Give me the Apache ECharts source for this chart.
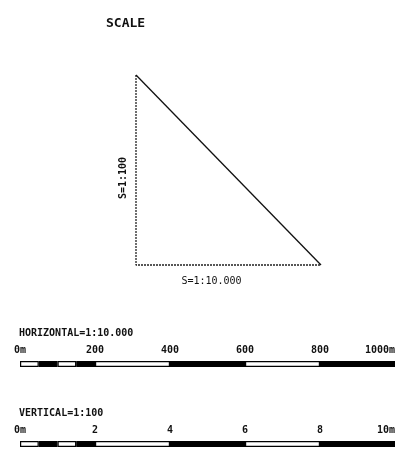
<!DOCTYPE html>
<html>
<head>
<meta charset="utf-8">
<script src="https://cdn.jsdelivr.net/npm/echarts@6/dist/echarts.min.js"></script>
<style>html,body{margin:0;padding:0;background:#fff}#c{width:414px;height:450px}</style>
</head>
<body>
<div id="c"></div>
<script>
// ---- data ----
const chartTitle = 'SCALE';
const triangleLabelX = 'S=1:10.000';
const triangleLabelY = 'S=1:100';
const triangleLegs = [[0, 10], [0, 0], [1000, 0]];
const triangleHyp = [[0, 10], [1000, 0]];

const horizTitle = 'HORIZONTAL=1:10.000';
const horizTicks = [0, 200, 400, 600, 800, 1000];
const horizSegments = [50, 50, 50, 50, 200, 200, 200, 200];

const vertTitle = 'VERTICAL=1:100';
const vertTicks = [0, 2, 4, 6, 8, 10];
const vertSegments = [0.5, 0.5, 0.5, 0.5, 2, 2, 2, 2];

// ---- chart ----
const FONT = '"DejaVu Sans Mono", "Liberation Mono", monospace';
const chart = echarts.init(document.getElementById('c'), null, {renderer: 'canvas'});

function tickFmt(ticks) {
  const max = ticks[ticks.length - 1];
  return function (v) {
    if (v === 0) return '0m';
    if (v === max) return v + 'm';
    return String(v);
  };
}
function barAxis(ticks, gi, margin) {
  return {
    type: 'value', gridIndex: gi, position: 'top',
    min: ticks[0], max: ticks[ticks.length - 1],
    interval: ticks[1] - ticks[0],
    axisLine: {show: false}, axisTick: {show: false}, splitLine: {show: false},
    axisLabel: {
      show: true, margin: margin, color: '#111', fontFamily: FONT, fontSize: 10, fontWeight: 'bold',
      formatter: tickFmt(ticks), alignMaxLabel: 'right'
    }
  };
}
function hiddenCat(gi) {
  return {type: 'category', gridIndex: gi, data: ['s'], show: false};
}
function segSeries(segs, gi, stack) {
  return segs.map((v, i) => ({
    type: 'bar', stack: stack, xAxisIndex: gi, yAxisIndex: gi,
    barWidth: 6, silent: true, animation: false,
    data: [v],
    itemStyle: {color: i % 2 === 0 ? '#fff' : '#000', borderColor: '#000', borderWidth: 1.2}
  }));
}
const txt = (size) => ({fontFamily: FONT, fontSize: size, fontWeight: 'bold', color: '#111'});

const option = {
  animation: false,
  backgroundColor: '#fff',
  title: [
    {text: chartTitle, left: 101, top: 12, textStyle: txt(13)},
    {text: horizTitle, left: 14, top: 323, textStyle: txt(10)},
    {text: vertTitle, left: 14, top: 403, textStyle: txt(10)}
  ],
  grid: [
    {left: 136, top: 75, width: 185, height: 190},
    {left: 20, top: 361, width: 375, height: 6},
    {left: 20, top: 441, width: 375, height: 6}
  ],
  xAxis: [
    {
      type: 'value', gridIndex: 0, min: 0, max: 1000,
      axisLine: {show: false}, axisTick: {show: false}, axisLabel: {show: false}, splitLine: {show: false},
      name: triangleLabelX, nameLocation: 'middle', nameGap: 11,
      nameTextStyle: Object.assign(txt(10), {fontWeight: 'normal', padding: [0, 34, 0, 0]})
    },
    barAxis(horizTicks, 1, 6),
    barAxis(vertTicks, 2, 6)
  ],
  yAxis: [
    {
      type: 'value', gridIndex: 0, min: 0, max: 10,
      axisLine: {show: false}, axisTick: {show: false}, axisLabel: {show: false}, splitLine: {show: false},
      name: triangleLabelY, nameLocation: 'middle', nameGap: 8,
      nameTextStyle: Object.assign(txt(10), {padding: [0, 16, 0, 0]})
    },
    hiddenCat(1),
    hiddenCat(2)
  ],
  series: [
    {
      type: 'line', xAxisIndex: 0, yAxisIndex: 0, data: triangleLegs,
      showSymbol: false, clip: false, silent: true,
      lineStyle: {color: '#222', width: 1.3, type: [2, 1]}
    },
    {
      type: 'line', xAxisIndex: 0, yAxisIndex: 0, data: triangleHyp,
      showSymbol: false, clip: false, silent: true,
      lineStyle: {color: '#111', width: 1.3}
    }
  ].concat(segSeries(horizSegments, 1, 'h'), segSeries(vertSegments, 2, 'v'))
};
chart.setOption(option);
</script>
</body>
</html>
